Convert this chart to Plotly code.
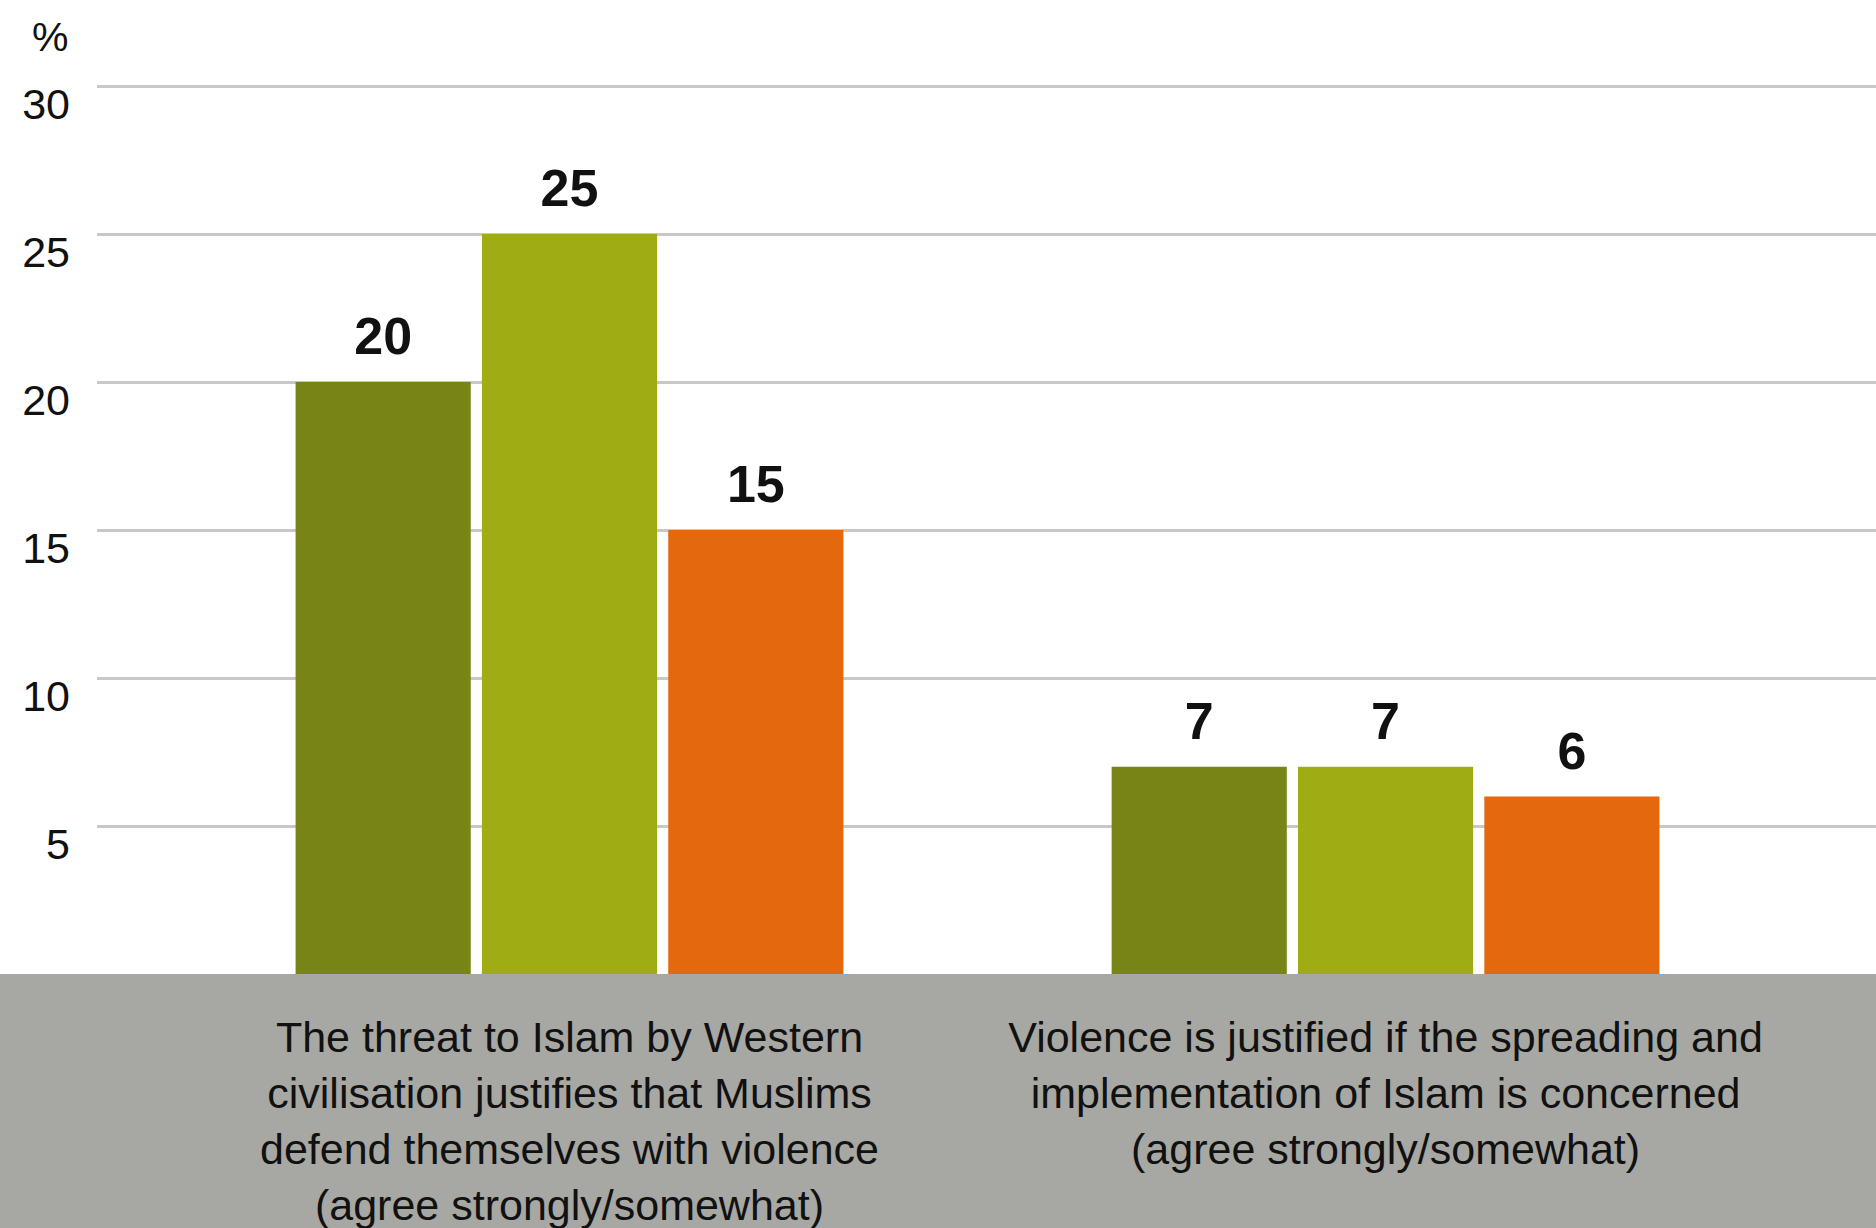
import plotly.graph_objects as go

categories = [
    "The threat to Islam by Western<br>civilisation justifies that Muslims<br>defend themselves with violence<br>(agree strongly/somewhat)",
    "Violence is justified if the spreading and<br>implementation of Islam is concerned<br>(agree strongly/somewhat)",
]
series_names = ["Series 1", "Series 2", "Series 3"]
series_1 = [20, 7]
series_2 = [25, 7]
series_3 = [15, 6]
series_values = [series_1, series_2, series_3]
colors = ["#788415", "#9FAC13", "#E4690E"]
y_tickvals = [5, 10, 15, 20, 25, 30]
y_ticktext = ["5", "10", "15", "20", "25", "30"]

W, H = 1876, 1228
ML, MR, MT, MB = 97, 0, 20, 254
PW, PH = W - ML - MR, H - MT - MB
px_per_unit = 29.6
ymax = PH / px_per_unit

fig = go.Figure()
for name, vals, col in zip(series_names, series_values, colors):
    fig.add_trace(go.Bar(
        x=categories, y=vals, name=name, marker=dict(color=col, line=dict(width=0)),
        offsetgroup=name, showlegend=False, hoverinfo="skip",
    ))
for name, vals in zip(series_names, series_values):
    fig.add_trace(go.Scatter(
        x=categories, y=vals, mode="markers+text", text=[str(v) for v in vals],
        textposition="top center", offsetgroup=name,
        marker=dict(size=22, color="rgba(0,0,0,0)"),
        textfont=dict(family="Liberation Sans", size=52, color="#111111", weight="bold"),
        showlegend=False, hoverinfo="skip", cliponaxis=False,
    ))

fig.add_shape(type="rect", xref="paper", yref="paper", x0=-ML / PW - 0.01, x1=1.0,
              y0=-MB / PH - 0.01, y1=0, fillcolor="#A7A7A3",
              line=dict(width=0), layer="below")

fig.add_annotation(text="%", xref="paper", yref="paper", x=-27 / PW,
                   y=1 + 8 / PH, xanchor="right", yanchor="top",
                   showarrow=False, font=dict(family="Liberation Sans", size=41, color="#111111"))

fig.update_layout(
    width=W, height=H, margin=dict(l=ML, r=MR, t=MT, b=MB),
    paper_bgcolor="white", plot_bgcolor="white",
    barmode="group", bargap=0.315, bargroupgap=0.06,
    scattermode="group", scattergap=0.315,
    showlegend=False,
    xaxis=dict(range=[-0.579, 1.601], showgrid=False, zeroline=False, showline=False,
               ticks="", ticklabelstandoff=34,
               tickfont=dict(family="Liberation Sans", size=43, color="#111111")),
    yaxis=dict(range=[0, ymax], tickvals=y_tickvals, ticktext=y_ticktext,
               showgrid=True, gridcolor="#C8C8C8", gridwidth=2.5, zeroline=False,
               showline=False, ticks="", ticklabelstandoff=26, ticklabelshift=18,
               tickfont=dict(family="Liberation Sans", size=43, color="#111111")),
)

fig.write_html("out.html", config={"displayModeBar": False},
               post_script="document.body.style.margin='0';document.body.style.overflow='hidden';")
